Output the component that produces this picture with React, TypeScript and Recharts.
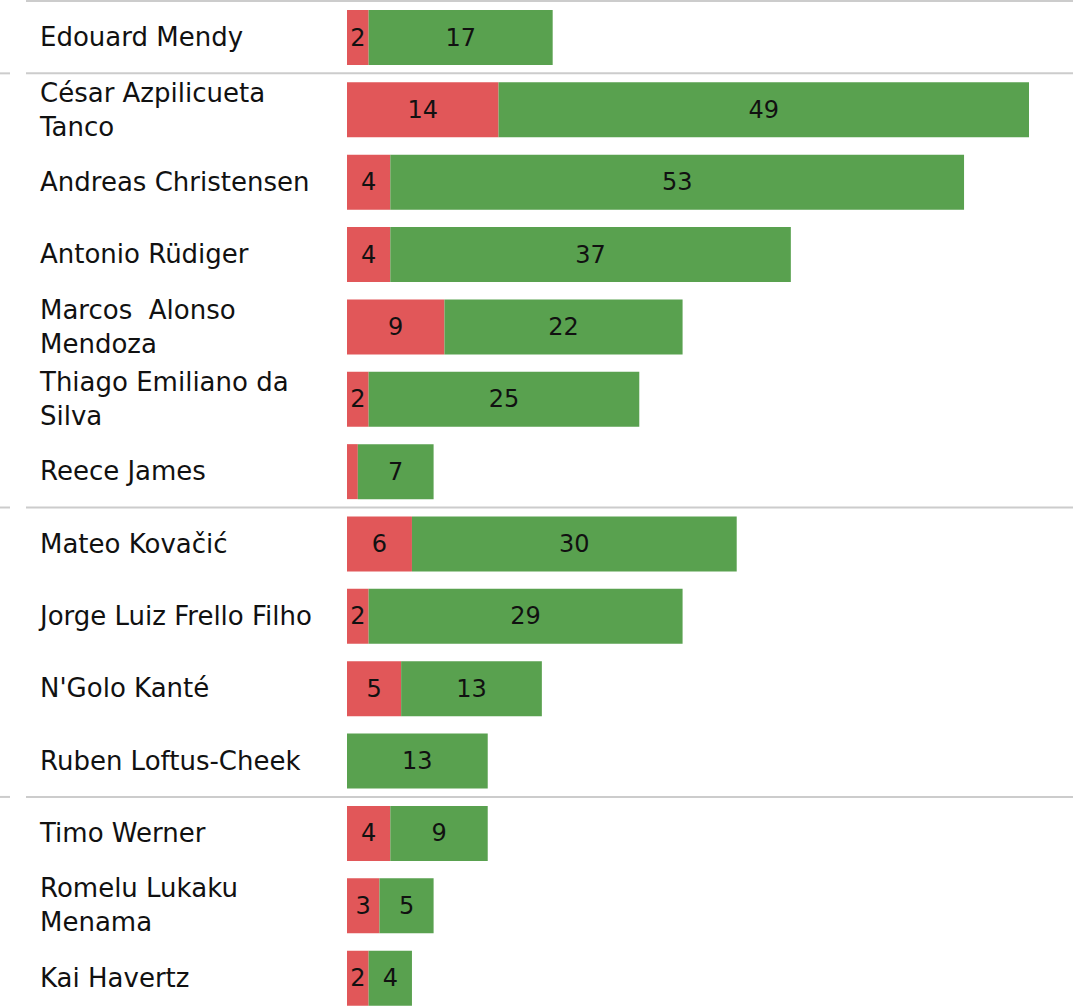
import React from "react";
import { BarChart, Bar, XAxis, YAxis, LabelList } from "recharts";

const NAMES = [
  "Edouard Mendy",
  "César Azpilicueta Tanco",
  "Andreas Christensen",
  "Antonio Rüdiger",
  "Marcos  Alonso Mendoza",
  "Thiago Emiliano da Silva",
  "Reece James",
  "Mateo Kovačić",
  "Jorge Luiz Frello Filho",
  "N'Golo Kanté",
  "Ruben Loftus-Cheek",
  "Timo Werner",
  "Romelu Lukaku Menama",
  "Kai Havertz",
];
const RED_VALUES = [2, 14, 4, 4, 9, 2, 1, 6, 2, 5, 0, 4, 3, 2];
const GREEN_VALUES = [17, 49, 53, 37, 22, 25, 7, 30, 29, 13, 13, 9, 5, 4];
// first row of each position group (goalkeepers, defenders, midfielders, forwards)
const GROUP_STARTS = [0, 1, 7, 11];

const RED = "#E15759";
const GREEN = "#59A14F";
const FONT = "DejaVu Sans";
const NAME_SIZE = 26;
const VALUE_SIZE = 24;

const data = NAMES.map((name, i) => ({
  name,
  red: RED_VALUES[i],
  green: GREEN_VALUES[i],
}));

let ctx: CanvasRenderingContext2D | null = null;
const measure = (s: string) => {
  if (!ctx) ctx = document.createElement("canvas").getContext("2d");
  if (!ctx) return s.length * NAME_SIZE * 0.6;
  ctx.font = `${NAME_SIZE}px "${FONT}"`;
  return ctx.measureText(s).width;
};

const wrap = (text: string, maxWidth = 295) => {
  const words = text.split(" ");
  const lines: string[] = [];
  let cur = "";
  words.forEach((w, i) => {
    const next = i === 0 ? w : cur + " " + w;
    if (cur && w && measure(next) > maxWidth) {
      lines.push(cur);
      cur = w;
    } else {
      cur = next;
    }
  });
  lines.push(cur);
  return lines;
};

const NameTick = (props: any) => {
  const { y, payload } = props;
  const idx = NAMES.indexOf(payload.value);
  const half = payload.offset || 36;
  const lines = wrap(payload.value);
  const lineH = 34;
  const top = y - half;
  return (
    <g>
      {GROUP_STARTS.includes(idx) && (
        <g>
          {idx > 0 && <line x1={0} x2={10} y1={top} y2={top} stroke="#cccccc" strokeWidth={2} />}
          <line x1={26} x2={1073} y1={top} y2={top} stroke="#cccccc" strokeWidth={2} />
        </g>
      )}
      <text
        x={40}
        y={y}
        fontFamily={FONT}
        fontSize={NAME_SIZE}
        fill="#111"
        textAnchor="start"
        style={{ whiteSpace: "pre" }}
      >
        {lines.map((l, i) => (
          <tspan
            key={i}
            x={40}
            y={y + (i - (lines.length - 1) / 2) * lineH}
            dominantBaseline="central"
          >
            {l}
          </tspan>
        ))}
      </text>
    </g>
  );
};

const ValueLabel = (props: any) => {
  const { x, y, width, height, value } = props;
  if (!value || width < 15) return null;
  return (
    <text
      x={x + width / 2}
      y={y + height / 2}
      textAnchor="middle"
      dominantBaseline="central"
      fontFamily={FONT}
      fontSize={VALUE_SIZE}
      fill="#111"
    >
      {value}
    </text>
  );
};

export default function App() {
  return (
    <div
      style={{
        position: "fixed",
        left: 0,
        top: 0,
        width: 1073,
        height: 1007,
        overflow: "hidden",
        background: "#fff",
      }}
    >
      <BarChart
        width={1073}
        height={1014}
        data={data}
        layout="vertical"
        margin={{ top: 1, right: 44, bottom: 0, left: 0 }}
      >
        <XAxis type="number" hide domain={[0, 63]} />
        <YAxis
          type="category"
          dataKey="name"
          width={347}
          axisLine={false}
          tickLine={false}
          tick={<NameTick />}
          interval={0}
        />
        <Bar dataKey="red" stackId="a" fill={RED} barSize={55} isAnimationActive={false}>
          <LabelList dataKey="red" content={<ValueLabel />} />
        </Bar>
        <Bar dataKey="green" stackId="a" fill={GREEN} barSize={55} isAnimationActive={false}>
          <LabelList dataKey="green" content={<ValueLabel />} />
        </Bar>
      </BarChart>
    </div>
  );
}
